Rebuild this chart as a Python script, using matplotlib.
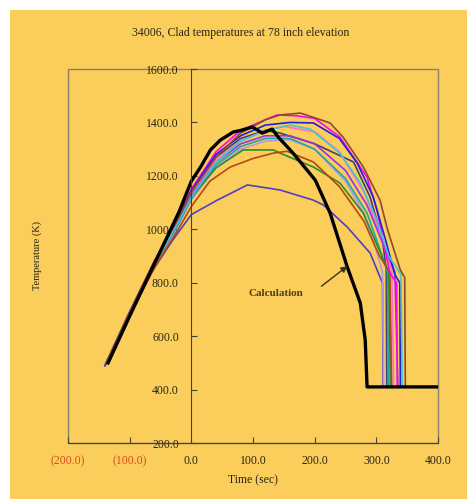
import matplotlib.pyplot as plt
from matplotlib.patches import Rectangle

plt.rcParams['font.family'] = ['Liberation Serif', 'DejaVu Serif']

# calculation (black)
calc_t = [-135, -100, -60, -20, 0, 15, 31, 47, 68, 80, 99, 115, 131, 141, 165, 201, 225, 253, 274, 282, 285, 400]
calc_k = [500, 675, 870, 1065, 1180, 1233, 1297, 1334, 1364, 1370, 1383, 1360, 1375, 1345, 1285, 1184, 1061, 858, 724, 585, 410, 410]

# measured clad temperatures (thermocouples)
brown_t = [-140, -100, -60, -20, 0, 40, 80, 120, 144, 177, 225, 246, 279, 306, 318, 339, 346, 347]
brown_k = [490, 690, 880, 1045, 1140, 1270, 1360, 1410, 1428, 1435, 1398, 1345, 1233, 1109, 1000, 847, 820, 410]

magenta_t = [-140, -100, -60, -20, 0, 40, 80, 120, 139, 170, 200, 241, 285, 301, 322, 333, 334]
magenta_k = [490, 690, 880, 1050, 1150, 1290, 1370, 1410, 1428, 1425, 1415, 1345, 1195, 1072, 836, 800, 410]

blue_t = [-140, -100, -60, -20, 0, 40, 80, 120, 160, 198, 240, 269, 295, 315, 330, 338, 339]
blue_k = [490, 690, 880, 1048, 1145, 1280, 1350, 1390, 1400, 1398, 1340, 1248, 1121, 960, 830, 800, 410]

cyan_t = [-140, -100, -60, -20, 0, 40, 80, 120, 160, 193, 241, 274, 300, 320, 340, 342]
cyan_k = [490, 685, 870, 1030, 1120, 1250, 1330, 1370, 1390, 1375, 1285, 1173, 1040, 900, 830, 410]

navy_t = [-140, -100, -60, -20, 0, 40, 80, 120, 144, 200, 263, 290, 310, 316, 317]
navy_k = [490, 690, 875, 1040, 1135, 1270, 1340, 1370, 1360, 1320, 1252, 1120, 960, 850, 410]

pink_t = [-140, -100, -60, -20, 0, 40, 80, 120, 150, 200, 240, 280, 305, 325, 328]
pink_k = [490, 688, 872, 1035, 1130, 1260, 1330, 1370, 1385, 1365, 1290, 1140, 990, 850, 410]

purple_t = [-140, -100, -60, -20, 0, 40, 80, 120, 160, 200, 250, 285, 310, 330, 335]
purple_k = [490, 686, 870, 1032, 1125, 1250, 1320, 1350, 1350, 1320, 1220, 1090, 950, 840, 410]

lavender_t = [-140, -100, -60, -20, 0, 40, 80, 120, 160, 200, 250, 280, 300, 310, 312]
lavender_k = [490, 684, 865, 1020, 1110, 1230, 1300, 1330, 1335, 1300, 1180, 1060, 920, 840, 410]

green_t = [-140, -100, -60, -20, 0, 40, 84, 133, 144, 198, 241, 279, 305, 320, 323]
green_k = [490, 685, 868, 1028, 1120, 1230, 1297, 1297, 1285, 1233, 1173, 1060, 920, 840, 410]

sienna_t = [-140, -100, -60, -20, 0, 30, 63, 100, 133, 155, 198, 240, 280, 305, 322, 325]
sienna_k = [490, 680, 855, 1005, 1085, 1180, 1233, 1265, 1285, 1292, 1252, 1160, 1030, 900, 840, 410]

teal_t = [-140, -100, -60, -20, 0, 40, 80, 120, 160, 200, 250, 285, 305, 318, 320]
teal_k = [490, 684, 866, 1025, 1115, 1240, 1310, 1340, 1340, 1300, 1190, 1060, 930, 840, 410]

violet_t = [-140, -100, -70, -30, 0, 42, 91, 144, 198, 214, 253, 290, 306, 310, 311]
violet_k = [490, 680, 820, 960, 1055, 1109, 1166, 1147, 1109, 1091, 1008, 911, 821, 800, 410]

series = [
    (violet_t, violet_k, '#5040C0'),
    (lavender_t, lavender_k, '#B09AE8'),
    (navy_t, navy_k, '#404070'),
    (teal_t, teal_k, '#20A8A0'),
    (green_t, green_k, '#2E8B2E'),
    (sienna_t, sienna_k, '#B04A14'),
    (pink_t, pink_k, '#FF70C8'),
    (purple_t, purple_k, '#9A30F0'),
    (magenta_t, magenta_k, '#FF00FF'),
    (blue_t, blue_k, '#2020D8'),
    (cyan_t, cyan_k, '#40C8D0'),
    (brown_t, brown_k, '#8B4A2B'),
]

yticks = [200, 400, 600, 800, 1000, 1200, 1400, 1600]
xticks = [-200, -100, 0, 100, 200, 300, 400]
xlabels = ['(200.0)', '(100.0)', '0.0', '100.0', '200.0', '300.0', '400.0']

yellow = '#FBCE5B'
fig = plt.figure(figsize=(4.67, 4.99), dpi=100, facecolor='white')
fig.patches.append(Rectangle((10 / 467, 0), 1, 1 - 10 / 499, transform=fig.transFigure,
                             facecolor=yellow, edgecolor='none', zorder=-10))

ax = fig.add_axes([68 / 467, 56 / 499, 370 / 467, 374 / 499])
ax.set_facecolor(yellow)

for t, k, c in series:
    ax.plot(t, k, color=c, lw=1.2)
ax.plot(calc_t, calc_k, color='black', lw=2.4)

ax.set_xlim(-200, 400)
ax.set_ylim(200, 1600)

# y axis sits at t = 0, grey box around the plot
for s in ['top', 'right']:
    ax.spines[s].set_visible(False)
ax.spines['left'].set_position(('data', 0))
ax.spines['left'].set_color('#4a4030')
ax.spines['bottom'].set_color('#4a4030')
ax.add_patch(Rectangle((0, 0), 1, 1, transform=ax.transAxes, fill=False,
                       edgecolor='#8a8068', lw=1.0, clip_on=False))

ax.set_yticks(yticks)
ax.set_yticklabels([f'{v:.1f}' for v in yticks])
ax.set_xticks(xticks)
ax.set_xticklabels(xlabels)
ax.tick_params(axis='y', direction='in', length=4, pad=9, labelsize=8.5,
               color='#4a4030', labelcolor='#2a2418')
ax.tick_params(axis='x', direction='in', length=4, pad=9, labelsize=8.5,
               color='#4a4030', labelcolor='#2a2418')
for lbl in ax.get_xticklabels()[:2]:
    lbl.set_color('#E2471E')

ax.text(92, 761, 'Calculation', fontsize=8, fontweight='bold', color='#4d3f1a',
        va='center', ha='left')
ax.annotate('', xy=(253, 862), xytext=(211, 787),
            arrowprops=dict(arrowstyle='-|>', color='#3a3320', lw=1.0,
                            shrinkA=0, shrinkB=0, mutation_scale=9))

fig.text(241 / 467, 1 - 33 / 499, '34006, Clad temperatures at 78 inch elevation',
         ha='center', va='center', fontsize=8.5, color='#2a2418')
fig.text(253 / 467, 1 - 480 / 499, 'Time (sec)', ha='center', va='center',
         fontsize=8.5, color='#2a2418')
fig.text(37 / 467, 1 - 256 / 499, 'Temperature (K)', ha='center', va='center',
         rotation=90, fontsize=7.5, color='#2a2418')

plt.savefig('out.png', dpi=100, facecolor='white')
